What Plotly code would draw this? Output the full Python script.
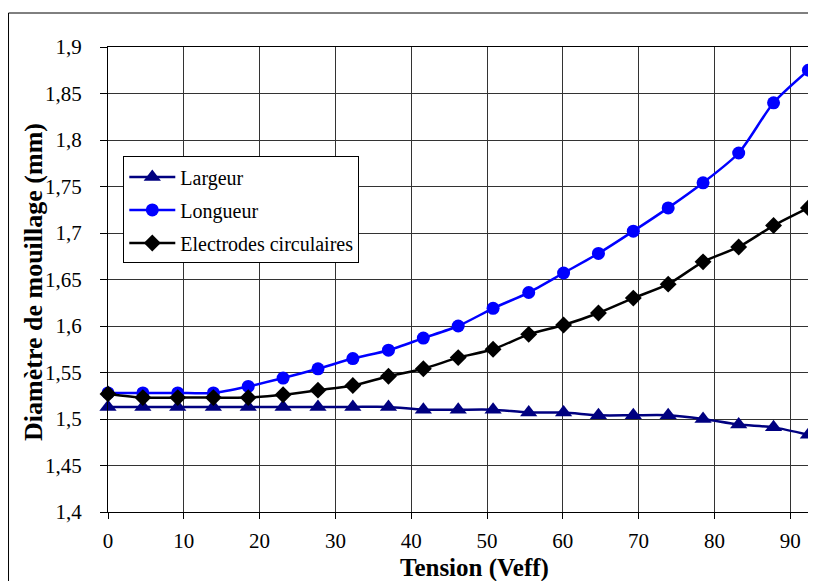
import plotly.graph_objects as go

tension = [0, 4.6, 9.2, 13.9, 18.5, 23.1, 27.7, 32.3, 37.0, 41.6, 46.2,
           50.8, 55.5, 60.1, 64.7, 69.3, 73.9, 78.5, 83.2, 87.8, 92.4]

largeur = [1.513, 1.513, 1.513, 1.513, 1.513, 1.513, 1.513, 1.513, 1.513, 1.510, 1.510,
           1.510, 1.507, 1.507, 1.504, 1.504, 1.504, 1.500, 1.494, 1.491, 1.483]

longueur = [1.528, 1.528, 1.528, 1.528, 1.535, 1.544, 1.554, 1.565, 1.574, 1.587, 1.600,
            1.619, 1.636, 1.657, 1.678, 1.702, 1.727, 1.754, 1.786, 1.840, 1.875]

electrodes = [1.527, 1.523, 1.523, 1.523, 1.523, 1.526, 1.531, 1.536, 1.546, 1.554, 1.566,
              1.575, 1.591, 1.601, 1.614, 1.630, 1.645, 1.669, 1.685, 1.708, 1.727]

x_ticks = [0, 10, 20, 30, 40, 50, 60, 70, 80, 90]
y_ticks = [1.4, 1.45, 1.5, 1.55, 1.6, 1.65, 1.7, 1.75, 1.8, 1.85, 1.9]

FONT = "Liberation Serif"

fig = go.Figure()
series = [
    ("Largeur", largeur, "#000080", "triangle-up", 15),
    ("Longueur", longueur, "#0000FF", "circle", 13),
    ("Electrodes circulaires", electrodes, "#000000", "diamond", 13),
]
for i, (name, vals, col, sym, sz) in enumerate(series):
    fig.add_trace(go.Scatter(
        x=tension, y=vals, name=name, mode="lines+markers",
        line=dict(color=col, width=2.5, shape="spline", smoothing=0.7),
        marker=dict(color=col, symbol=sym, size=sz),
        legendgroup=f"g{i}", cliponaxis=False,
    ))

fig.update_layout(
    width=808, height=573,
    margin=dict(l=100, r=0, t=39, b=69),
    paper_bgcolor="white", plot_bgcolor="white",
    separators=", ",
    font=dict(family=FONT, size=21, color="black"),
    showlegend=True,
    legend=dict(
        x=0.0216, y=0.7646, xanchor="left", yanchor="top",
        bgcolor="white", bordercolor="black", borderwidth=1,
        font=dict(family=FONT, size=20, color="black"),
        traceorder="grouped", tracegroupgap=4, itemwidth=46,
    ),
    xaxis=dict(
        range=[0, 93.4], tickvals=x_ticks, ticktext=[str(v) for v in x_ticks],
        showgrid=True, gridcolor="#333333", gridwidth=1,
        zeroline=False, showline=True, linecolor="black", linewidth=1, mirror=True,
        ticks="outside", ticklen=6, tickcolor="black",
        tickfont=dict(family=FONT, size=21), ticklabelstandoff=4,
    ),
    yaxis=dict(
        range=[1.4, 1.9], tickvals=y_ticks,
        showgrid=True, gridcolor="#333333", gridwidth=1,
        zeroline=False, showline=True, linecolor="black", linewidth=1,
        ticks="outside", ticklen=7, tickcolor="black",
        tickfont=dict(family=FONT, size=21), ticklabelstandoff=14,
    ),
    annotations=[
        dict(text="<b>Tension (Veff)</b>", xref="paper", yref="paper",
             x=0.517, y=-0.12, xanchor="center", yanchor="middle", showarrow=False,
             font=dict(family=FONT, size=25, color="black")),
        dict(text="<b>Diamètre de mouillage (mm)</b>", xref="paper", yref="paper",
             x=-0.106, y=0.4946, xanchor="center", yanchor="middle", showarrow=False,
             textangle=-90, font=dict(family=FONT, size=26, color="black")),
    ],
    shapes=[
        dict(type="rect", xref="paper", yref="paper", x0=-0.1405, x1=1.1, y0=-0.3, y1=1.0731,
             line=dict(color="black", width=1), fillcolor="rgba(0,0,0,0)", layer="below"),
    ],
)

fig.write_html("out.html")
